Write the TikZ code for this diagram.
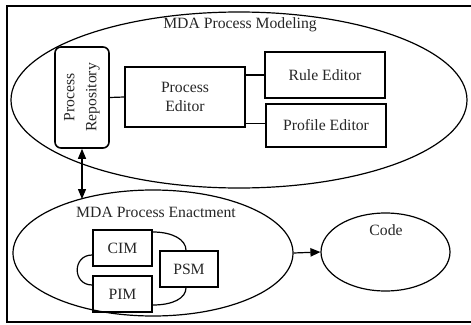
\documentclass[tikz,border=0pt]{standalone}
\usepackage{fontspec}
\setmainfont{Liberation Serif}
\usetikzlibrary{arrows.meta,shapes.geometric}
\begin{document}
\begin{tikzpicture}[x=1pt,y=-1pt,
  every node/.style={font=\fontsize{15.7}{19}\selectfont, inner sep=0pt, text=black!85},
  oval/.style={draw, ellipse, line width=1.2pt},
  box/.style={draw, rectangle, line width=1.6pt, align=center},
  link/.style={line width=1.2pt},
  tip/.style={line width=1.2pt, -{Triangle[length=10pt,width=8.5pt]}},
  twotip/.style={line width=1.2pt, {Triangle[length=10pt,width=8pt]}-{Triangle[length=10pt,width=8pt]}}
]
\useasboundingbox (0,0) rectangle (471,324);
% frame
\draw[line width=2pt] (472,6) -- (7,6) -- (7,322) -- (472,322);

% modeling part
\node[oval, minimum width=456pt, minimum height=176pt] (model) at (239,100) {};
\node (modeltitle) at (240,25) {MDA Process Modeling};
\node[box, rounded corners=6pt, minimum width=54pt, minimum height=101pt] (repo) at (82,97.5) {};
\node[rotate=90, align=center, font=\fontsize{15.7}{22}\selectfont] (repotxt) at (repo.center) {Process\\Repository};
\node[box, minimum width=120pt, minimum height=60pt] (editor) at (185,97) {Process\\Editor};
\node[box, minimum width=120pt, minimum height=46pt] (rule) at (325,75) {Rule Editor};
\node[box, minimum width=120pt, minimum height=43pt] (profile) at (326,125.5) {Profile Editor};
\draw[link] (repo.east) -- (editor.west);
\draw[link] (editor.east |- rule.west) -- (rule.west);
\draw[link] ([yshift=2pt]editor.east |- profile.west) -- ([yshift=2pt]profile.west);

% enactment part
\node[oval, minimum width=280pt, minimum height=126pt] (enact) at (153,253) {};
\node (enacttitle) at (156,212) {MDA Process Enactment};
\node[box, minimum width=59pt, minimum height=36pt] (cim) at (122.5,248) {CIM};
\node[box, minimum width=59pt, minimum height=36pt] (pim) at (122.5,294) {PIM};
\node[box, minimum width=58pt, minimum height=36pt] (psm) at (189,269) {PSM};
\draw[link] ([yshift=-7pt]cim.west) to[out=180,in=180,distance=20pt] ([yshift=9pt]pim.west);
\draw[link] ([yshift=16pt]cim.east) to[out=0,in=90,out distance=20pt,in distance=10.5pt] ([xshift=-3pt]psm.north);
\draw[link] ([xshift=-3pt]psm.south) to[out=-90,in=0,out distance=10.5pt,in distance=20pt] ([yshift=-11pt]pim.east);

% code
\node[oval, minimum width=129pt, minimum height=78pt] (code) at (385.5,252) {};
\node (codetxt) at (386,230) {Code};

% connectors between the parts
\draw[twotip] (repo.south) -- (repo.south |- enact.144);
\draw[tip] (enact.east) -- (code.west);
\end{tikzpicture}
\end{document}
